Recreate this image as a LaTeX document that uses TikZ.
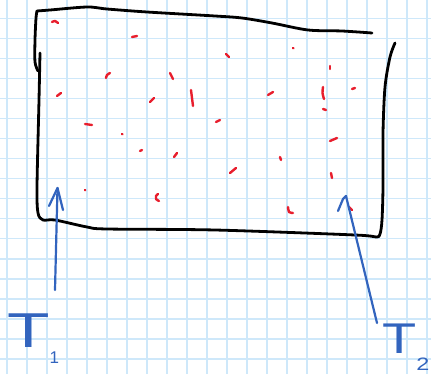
\documentclass[tikz,border=0pt]{standalone}
\usepackage{fontspec}
\setmainfont{Liberation Sans}
\definecolor{gridblue}{RGB}{206,232,250}
\definecolor{inkred}{RGB}{232,30,45}
\definecolor{inkblue}{RGB}{50,100,190}
\begin{document}
\begin{tikzpicture}[x=1pt,y=-1pt,
  gridline/.style={gridblue,line width=1.6pt},
  frame/.style={black,line width=2.8pt,line cap=round,line join=round},
  dotmark/.style={inkred,line width=2.4pt,line cap=round,line join=round},
  arrowline/.style={inkblue,line width=2.2pt,line cap=round,line join=round},
  tlabel/.style={inkblue,inner sep=0pt,anchor=base west}]
\useasboundingbox (0,0) rectangle (431,374);
\fill[white] (0,0) rectangle (431,374);
% grid paper
\foreach \i in {0,...,21} \draw[gridline] ({6.7+20*\i},0) -- ({6.7+20*\i},374);
\foreach \j in {0,...,18} \draw[gridline] (0,{18.7+20*\j}) -- (431,{18.7+20*\j});
% hand-drawn frame
\draw[frame] plot[smooth,tension=0.5] coordinates {(38,71) (35,62) (35,40) (36,18) (37,11)};
\draw[frame] plot[smooth,tension=0.5] coordinates {(37,11) (50,10) (87,7) (107,9) (147,12) (215,16) (242,18) (272,23) (308,30) (342,31) (372,33)};
\draw[frame] plot[smooth,tension=0.5] coordinates {(40,53) (39,100) (37,187) (38,213) (43,220) (55,220) (87,227) (107,229) (215,230) (355,235) (376,237) (380,234) (382,220) (383,187) (383,133) (385,87) (390,57) (395,43)};
% red marks
\draw[dotmark] plot[smooth] coordinates {(52,22) (55,21) (58,23)};
\draw[dotmark] (132,37) -- (137,36);
\draw[dotmark] plot[smooth] coordinates {(106,78) (107,75) (110,73)};
\draw[dotmark] (57,96) -- (61,93);
\draw[dotmark] (150,102) -- (154,98);
\draw[dotmark] (226,54) -- (229,57);
\draw[dotmark] (170,73) -- (173,79);
\draw[dotmark] (191,90) -- (193,106);
\draw[dotmark] (268,95) -- (273,92);
\draw[dotmark] (293,48) -- (293.4,48.4);
\draw[dotmark] (330,66) -- (330,69);
\draw[dotmark] plot[smooth] coordinates {(323,87) (322.5,93) (324,99)};
\draw[dotmark] (352,89) -- (355,88);
\draw[dotmark] (323,109) -- (326,110);
\draw[dotmark] (85,124) -- (92,125);
\draw[dotmark] (122,134) -- (122.4,134.4);
\draw[dotmark] (140,151) -- (142,150);
\draw[dotmark] (85,190) -- (85.4,190.4);
\draw[dotmark] plot[smooth] coordinates {(158,194) (156,196) (156,199) (159,201)};
\draw[dotmark] (216,122) -- (220,120);
\draw[dotmark] (174,157) -- (177,153);
\draw[dotmark] (230,173) -- (236,168);
\draw[dotmark] (330,141) -- (337,138);
\draw[dotmark] (331,173) -- (332,178);
\draw[dotmark] (280,157) -- (281,160);
\draw[dotmark] plot[smooth] coordinates {(288,207) (289,212) (293,213)};
\draw[dotmark] (349,207) -- (352,210);
% labels
\node[tlabel] (t1) at (7,347) {\scalebox{1.42}[1]{\fontsize{49}{49}\selectfont T}\kern0pt\raisebox{-16pt}{\fontsize{17}{17}\selectfont 1}};
\node[tlabel] (t2) at (382,353) {\scalebox{1.3}[1]{\fontsize{43}{43}\selectfont T}\kern0pt\raisebox{-17pt}{\scalebox{1.3}[1]{\fontsize{18}{18}\selectfont 2}}};
% arrows
\coordinate (a1s) at (55,290);
\coordinate (a1t) at (57.5,188);
\coordinate (a2s) at (377,323);
\coordinate (a2t) at (346,196);
\draw[arrowline] (a1s) -- (a1t);
\draw[arrowline] ([shift={(-8.5,18)}]a1t) -- (a1t) -- ([shift={(5.5,22)}]a1t);
\draw[arrowline] (a2s) -- (a2t);
\draw[arrowline] ([shift={(-8,15)}]a2t) -- ([shift={(-3,3)}]a2t) -- (a2t);
\end{tikzpicture}
\end{document}
